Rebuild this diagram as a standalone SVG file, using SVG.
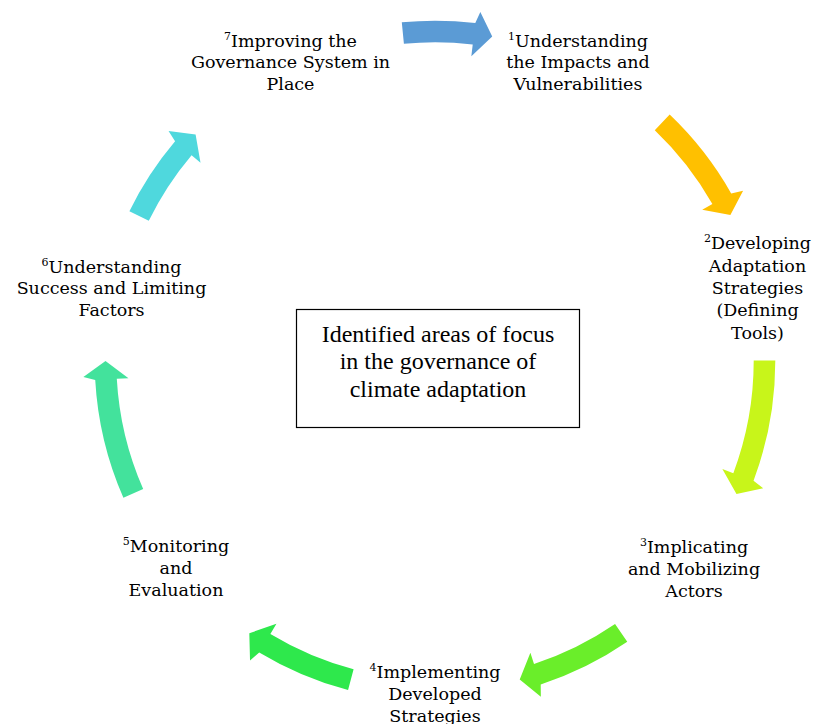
<svg xmlns="http://www.w3.org/2000/svg" width="815" height="724" viewBox="0 0 815 724">
<style>
.lbl{font-family:"DejaVu Serif","Liberation Serif",serif;font-size:17.5px;fill:#000;text-anchor:middle}
.sup{font-size:11px}
.ctr{font-family:"Liberation Serif","Times New Roman",serif;font-size:24px;fill:#000;text-anchor:middle}
.box{fill:#fff;stroke:#000;stroke-width:1.2}
</style>
<rect width="815" height="724" fill="#fff"/>
<g id="connectors">
<path id="a1" fill="#5B9BD5" d="M401.79,22.32 A340.3,340.3 0 0 1 475.29,23.09 L480.34,11.93 L492.22,36.51 L471.35,56.16 L472.73,44.54 A318.7,318.7 0 0 0 403.90,43.82 Z"/>
<path id="a2" fill="#FFC000" d="M669.68,114.57 A340.3,340.3 0 0 1 731.18,193.43 L743.11,190.84 L730.39,215.01 L702.20,209.83 L712.38,204.07 A318.7,318.7 0 0 0 654.78,130.21 Z"/>
<path id="a3" fill="#C8F51A" d="M775.3,360.41 A340.3,340.3 0 0 1 753.54,480.73 L763.18,488.29 L736.48,493.97 L722.37,469.01 L733.32,473.13 A318.7,318.7 0 0 0 753.7,360.44 Z"/>
<path id="a4" fill="#6AEE2A" d="M627.26,641.79 A340.3,340.3 0 0 1 540.72,684.46 L540.85,696.71 L519.72,679.42 L530.38,652.81 L534.01,663.93 A318.7,318.7 0 0 0 615.06,623.96 Z"/>
<path id="a5" fill="#2EE84C" d="M348.07,690.01 A340.3,340.3 0 0 1 259.22,652.39 L250.03,660.49 L249.32,633.20 L276.43,623.87 L270.38,633.89 A318.7,318.7 0 0 0 353.59,669.13 Z"/>
<path id="a6" fill="#43E29C" d="M123.40,497.78 A340.3,340.3 0 0 1 95.23,380.00 L83.36,376.97 L105.5,361 L128.48,378.14 L116.80,378.79 A318.7,318.7 0 0 0 143.18,489.10 Z"/>
<path id="a7" fill="#4FD8DD" d="M129.40,211.29 A340.3,340.3 0 0 1 175.08,141.35 L168.54,131.00 L195.60,134.60 L200.51,162.84 L191.58,155.29 A318.7,318.7 0 0 0 148.80,220.79 Z"/>
</g>
<g id="center">
<rect class="box" x="296.5" y="309.5" width="283" height="118"/>
<text class="ctr" x="438" y="341.7">Identified areas of focus</text>
<text class="ctr" x="438" y="369.2">in the governance of</text>
<text class="ctr" x="438" y="396.7">climate adaptation</text>
</g>
<g id="node1">
<text class="lbl" x="578" y="46.7"><tspan class="sup" dy="-7">1</tspan><tspan dy="7">Understanding</tspan></text>
<text class="lbl" x="578" y="68.4">the Impacts and</text>
<text class="lbl" x="578" y="90.1">Vulnerabilities</text>
</g>
<g id="node2">
<text class="lbl" x="757.5" y="249.3"><tspan class="sup" dy="-7">2</tspan><tspan dy="7">Developing</tspan></text>
<text class="lbl" x="757.5" y="271.6">Adaptation</text>
<text class="lbl" x="757.5" y="293.9">Strategies</text>
<text class="lbl" x="757.5" y="316.2">(Defining</text>
<text class="lbl" x="757.5" y="338.5">Tools)</text>
</g>
<g id="node3">
<text class="lbl" x="694" y="553"><tspan class="sup" dy="-7">3</tspan><tspan dy="7">Implicating</tspan></text>
<text class="lbl" x="694" y="575">and Mobilizing</text>
<text class="lbl" x="694" y="597">Actors</text>
</g>
<g id="node4">
<text class="lbl" x="435" y="677.5"><tspan class="sup" dy="-7">4</tspan><tspan dy="7">Implementing</tspan></text>
<text class="lbl" x="435" y="699.7">Developed</text>
<text class="lbl" x="435" y="721.9">Strategies</text>
</g>
<g id="node5">
<text class="lbl" x="176" y="552"><tspan class="sup" dy="-7">5</tspan><tspan dy="7">Monitoring</tspan></text>
<text class="lbl" x="176" y="574">and</text>
<text class="lbl" x="176" y="596">Evaluation</text>
</g>
<g id="node6">
<text class="lbl" x="111.5" y="272.7"><tspan class="sup" dy="-7">6</tspan><tspan dy="7">Understanding</tspan></text>
<text class="lbl" x="111.5" y="294.2">Success and Limiting</text>
<text class="lbl" x="111.5" y="315.7">Factors</text>
</g>
<g id="node7">
<text class="lbl" x="290.5" y="46.7"><tspan class="sup" dy="-7">7</tspan><tspan dy="7">Improving the</tspan></text>
<text class="lbl" x="290.5" y="68.4">Governance System in</text>
<text class="lbl" x="290.5" y="90.1">Place</text>
</g>
</svg>
